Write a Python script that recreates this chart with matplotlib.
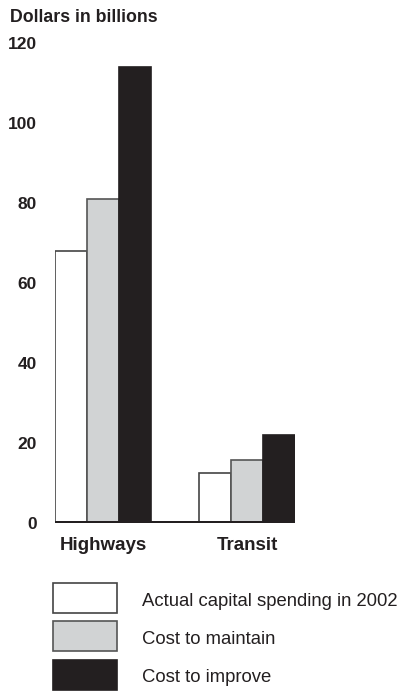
import matplotlib.pyplot as plt
import numpy as np

plt.rcParams['font.family'] = ['Liberation Sans', 'DejaVu Sans']

categories = ['Highways', 'Transit']
series = ['Actual capital spending in 2002', 'Cost to maintain', 'Cost to improve']
actual = [68, 12.5]
maintain = [81, 15.8]
improve = [114, 22]
yticks = [0, 20, 40, 60, 80, 100, 120]

fills = ['white', '#d1d3d4', '#231f20']
edges = ['#444444', '#555555', '#231f20']

W, H = 399, 694
fig = plt.figure(figsize=(W / 100, H / 100), dpi=100)

# plot area in pixels: x 55..295, y 43 (120) .. 523 (0)
ax = fig.add_axes([55 / W, 1 - 523 / H, 240 / W, 480 / H])
x = np.arange(len(categories))
bw = 32 / 144
for i, vals in enumerate([actual, maintain, improve]):
    ax.bar(x + (i - 1) * bw, vals, width=bw, color=fills[i], edgecolor=edges[i],
           linewidth=1.2, zorder=2)

ax.axhline(0, color='#231f20', linewidth=3.6, zorder=3)
ax.set_xlim(-48 / 144, 1 + 48 / 144)
ax.set_ylim(0, 120)
ax.set_yticks(yticks)
ax.set_yticklabels([str(t) for t in yticks], fontsize=12.5, fontweight='bold', color='#231f20')
ax.set_xticks(x)
ax.set_xticklabels(categories, fontsize=13.5, fontweight='bold', color='#231f20')
ax.tick_params(axis='y', length=0, pad=13)
ax.tick_params(axis='x', length=0, pad=10)
for s in ax.spines.values():
    s.set_visible(False)

fig.text(10 / W, 1 - 17 / H, 'Dollars in billions', fontsize=12.8, fontweight='bold',
         color='#231f20', va='center', ha='left')

# legend boxes drawn by hand below the chart
box_tops = [583, 621, 660]
for top, fc, ec, label in zip(box_tops, fills, edges, series):
    fig.patches.append(plt.Rectangle((53 / W, 1 - (top + 30) / H), 64 / W, 30 / H,
                                     transform=fig.transFigure, facecolor=fc,
                                     edgecolor=ec, linewidth=1.2))
    fig.text(142 / W, 1 - (top + 18) / H, label, fontsize=13.3, color='#231f20',
             va='center', ha='left')

fig.savefig('out.png', dpi=100)
